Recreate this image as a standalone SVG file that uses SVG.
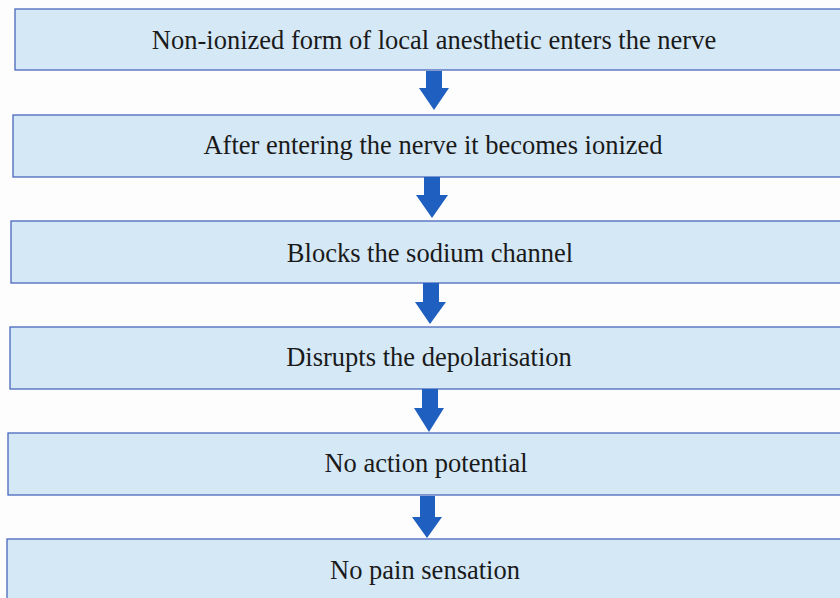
<svg xmlns="http://www.w3.org/2000/svg" width="840" height="598" viewBox="0 0 840 598">
<style>
.box{fill:#d5e8f6;stroke:#4a68bd;stroke-width:1.3}
.lbl{font-family:"Liberation Serif","Times New Roman",serif;font-size:26.5px;fill:#1a1a1a;text-anchor:middle}
.arr{fill:#1f5fc0}
</style>
<rect width="840" height="598" fill="#fdfdfd"/>
<g id="n1"><rect class="box" x="15" y="9" width="840" height="61"/><text class="lbl" x="434" y="49">Non-ionized form of local anesthetic enters the nerve</text></g>
<g id="n2"><rect class="box" x="13" y="115" width="840" height="62"/><text class="lbl" x="433" y="154">After entering the nerve it becomes ionized</text></g>
<g id="n3"><rect class="box" x="11" y="221" width="840" height="62"/><text class="lbl" x="430" y="262">Blocks the sodium channel</text></g>
<g id="n4"><rect class="box" x="10" y="327" width="840" height="62"/><text class="lbl" x="429" y="366">Disrupts the depolarisation</text></g>
<g id="n5"><rect class="box" x="8" y="433" width="840" height="62"/><text class="lbl" x="426" y="472">No action potential</text></g>
<g id="n6"><rect class="box" x="7" y="539" width="840" height="70"/><text class="lbl" x="425" y="579">No pain sensation</text></g>
<g id="connectors">
<polygon class="arr" points="426,71 442,71 442,88 449,88 434,110 419,88 426,88"/>
<polygon class="arr" points="424,177 440,177 440,195 448,195 432,218 416,195 424,195"/>
<polygon class="arr" points="423,283 439,283 439,302 446,302 430,324 415,302 423,302"/>
<polygon class="arr" points="422,389 438,389 438,408 444,408 429,432 414,408 422,408"/>
<polygon class="arr" points="420,496 435,496 435,517 442,517 427,538 412,517 420,517"/>
</g>
</svg>
